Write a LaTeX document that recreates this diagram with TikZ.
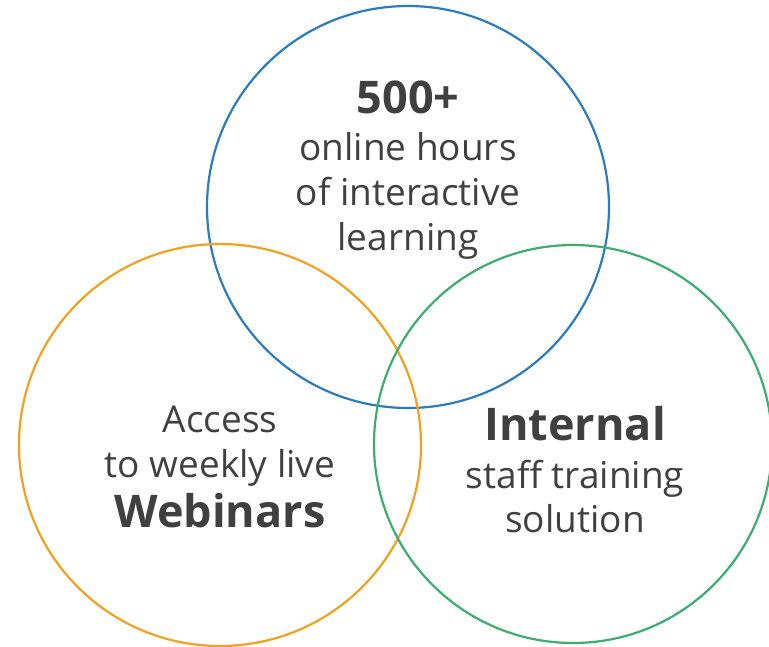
\documentclass[tikz,border=0pt]{standalone}
\usepackage{fontspec}
\setmainfont{Open Sans}
\usepackage{xcolor}
\definecolor{ringblue}{HTML}{2B7BBF}
\definecolor{ringorange}{HTML}{F2A11F}
\definecolor{ringgreen}{HTML}{3BAE6F}
\definecolor{txtgray}{HTML}{404040}

\begin{document}
\begin{tikzpicture}[x=1pt,y=-1pt,
		ring/.style={draw, circle, line width=2.2pt, minimum size=402pt, inner sep=0pt},
		small/.style={anchor=base, text=txtgray, font=\fontsize{37}{44}\selectfont},
		big/.style={anchor=base, text=txtgray, font=\fontsize{45}{52}\selectfont\bfseries}]
		\useasboundingbox (0,0) rectangle (769,646);
		\clip (0,0) rectangle (769,646);
		% Cerchi
		\node [ring, ringblue] (online) at (408,207) {};
		\node [ring, ringorange] (webinar) at (220,445) {};
		\node [ring, ringgreen, minimum size=398pt] (staff) at (573,444) {};
		% Cerchio in alto
		\node [big] (online1) at (408,113) {500+};
		\node [small] (online2) at (408,160) {online hours};
		\node [small] (online3) at (408,205) {of interactive};
		\node [small] (online4) at (408,250) {learning};
		% Cerchio a sinistra
		\node [small] (webinar1) at (220,432) {Access};
		\node [small] (webinar2) at (220,477) {to weekly live};
		\node [big] (webinar3) at (220,527) {Webinars};
		% Cerchio a destra
		\node [big] (staff1) at (575,440) {Internal};
		\node [small] (staff2) at (575,488) {staff training};
		\node [small] (staff3) at (575,532) {solution};
\end{tikzpicture}
\end{document}
